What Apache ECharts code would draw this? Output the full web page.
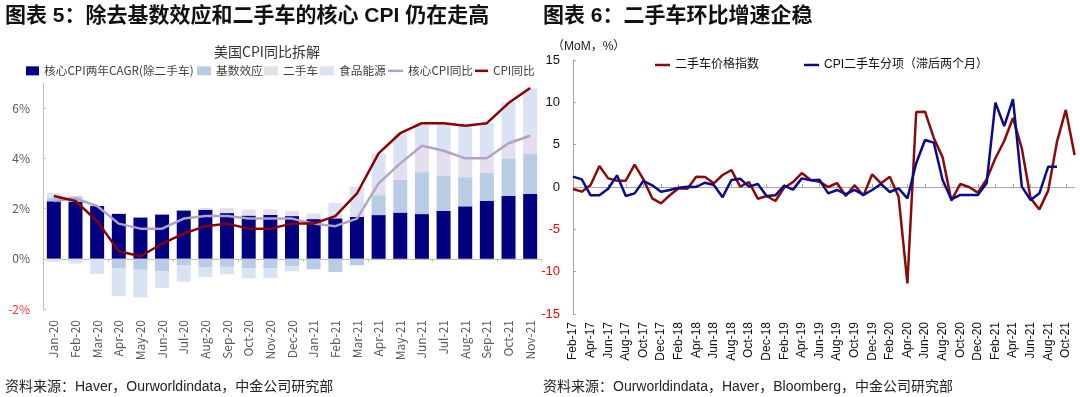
<!DOCTYPE html>
<html>
<head>
<meta charset="utf-8">
<script src="https://cdn.jsdelivr.net/npm/echarts@6/dist/echarts.min.js"></script>
<style>
html,body{margin:0;padding:0;background:#fff;}
#main{width:1080px;height:397px;}
</style>
</head>
<body>
<div id="main"></div>
<script>
// ---------- Left chart data (美国CPI同比拆解, %) ----------
var monthsL = ['Jan-20','Feb-20','Mar-20','Apr-20','May-20','Jun-20','Jul-20','Aug-20','Sep-20','Oct-20','Nov-20','Dec-20',
               'Jan-21','Feb-21','Mar-21','Apr-21','May-21','Jun-21','Jul-21','Aug-21','Sep-21','Oct-21','Nov-21'];
var coreCagr   = [2.29,2.26,2.10,1.79,1.64,1.76,1.92,1.95,1.82,1.72,1.75,1.70,1.58,1.61,1.67,1.74,1.84,1.78,1.91,2.09,2.30,2.50,2.58];
var baseEffect = [0.13,0.23,0.00,-0.39,-0.44,-0.50,-0.27,-0.33,-0.32,-0.38,-0.37,-0.30,-0.42,-0.53,-0.26,0.79,1.30,1.67,1.41,1.16,1.13,1.50,1.59];
var usedCar    = [-0.12,-0.09,0.00,0.00,0.00,-0.06,-0.05,0.08,0.20,0.24,0.22,0.20,0.22,0.22,0.19,0.46,0.66,1.05,1.01,0.75,0.57,0.63,0.72];
var foodEnergy = [0.20,-0.10,-0.60,-1.10,-1.10,-0.60,-0.60,-0.40,-0.30,-0.40,-0.40,-0.20,0.00,0.40,1.00,1.20,1.20,0.90,1.10,1.30,1.40,1.60,1.90];
var coreCpi    = [2.3,2.4,2.1,1.4,1.2,1.2,1.6,1.7,1.7,1.6,1.6,1.6,1.4,1.3,1.6,3.0,3.8,4.5,4.3,4.0,4.0,4.6,4.9];
var cpi        = [2.5,2.3,1.5,0.3,0.1,0.6,1.0,1.3,1.4,1.2,1.2,1.4,1.4,1.7,2.6,4.2,5.0,5.4,5.4,5.3,5.4,6.2,6.8];
var yTicksL    = [-2,0,2,4,6];

// ---------- Right chart data (MoM, %) ----------
var monthsR = ['Feb-17','Mar-17','Apr-17','May-17','Jun-17','Jul-17','Aug-17','Sep-17','Oct-17','Nov-17','Dec-17',
  'Jan-18','Feb-18','Mar-18','Apr-18','May-18','Jun-18','Jul-18','Aug-18','Sep-18','Oct-18','Nov-18','Dec-18',
  'Jan-19','Feb-19','Mar-19','Apr-19','May-19','Jun-19','Jul-19','Aug-19','Sep-19','Oct-19','Nov-19','Dec-19',
  'Jan-20','Feb-20','Mar-20','Apr-20','May-20','Jun-20','Jul-20','Aug-20','Sep-20','Oct-20','Nov-20','Dec-20',
  'Jan-21','Feb-21','Mar-21','Apr-21','May-21','Jun-21','Jul-21','Aug-21','Sep-21','Oct-21','Nov-21'];
var usedCarIndex = [-0.24,-0.55,0.24,2.48,1.02,0.75,0.75,2.64,0.90,-1.34,-1.93,-0.98,-0.16,-0.20,1.22,1.18,0.43,1.42,2.00,0.04,
  0.59,-1.38,-1.06,-1.65,-0.08,0.59,1.65,0.83,0.63,0.00,0.47,-1.06,0.20,-1.02,1.50,0.43,1.22,-1.14,-11.38,8.86,
  8.90,5.80,3.50,-1.61,0.35,0.00,-0.67,0.90,3.39,5.43,8.15,4.57,-1.34,-2.64,-0.43,5.35,9.10,3.78];
var cpiUsedCar = [1.22,0.90,-0.98,-0.98,-0.20,1.38,-1.06,-0.75,0.71,0.20,-0.55,-0.35,-0.08,0.04,0.00,0.51,0.24,-1.20,0.83,0.98,
  0.04,0.35,-1.06,-0.98,0.16,-0.31,1.02,0.79,0.85,-0.75,-0.35,-0.83,-0.35,-0.94,-0.35,0.35,-0.59,-0.16,-1.34,2.80,
  5.55,5.24,0.83,-1.46,-0.94,-0.94,-0.94,0.43,9.96,7.20,10.39,0.04,-1.54,-0.75,2.40,2.40];

var CJK = '"Noto Sans CJK SC", sans-serif';
var LAT = '"Liberation Sans", Arial, "Noto Sans CJK SC", sans-serif';
var axisGray = '#BFBFBF';

// one legend per item so each sits where it does in the reference
function legendItem(name, left, top, w, h, font, size, color) {
  return {
    left: left, top: top, padding: 0, itemWidth: w, itemHeight: h, icon: 'rect',
    textStyle: {fontFamily: font, fontSize: size, color: color},
    data: [name]
  };
}
var legends = [
  legendItem('核心CPI两年CAGR(除二手车)', 26, 65, 13, 9, CJK, 11.7, '#404040'),
  legendItem('基数效应', 197, 65, 14, 9, CJK, 11.7, '#404040'),
  legendItem('二手车', 264, 65, 14, 9, CJK, 11.7, '#404040'),
  legendItem('食品能源', 320, 65, 14, 9, CJK, 11.7, '#404040'),
  legendItem('核心CPI同比', 388, 65, 15, 2.5, CJK, 11.7, '#404040'),
  legendItem('CPI同比', 475, 65, 13, 2.5, CJK, 11.7, '#404040'),
  legendItem('二手车价格指数', 655, 59, 15, 2.5, LAT, 12, '#111'),
  legendItem('CPI二手车分项（滞后两个月）', 804, 59, 15, 2.5, LAT, 12, '#111')
];

var chart = echarts.init(document.getElementById('main'), null, {renderer:'canvas'});
var option = {
  animation: false,
  backgroundColor: '#fff',
  graphic: [
    {type:'text', left:5, top:6, style:{text:'图表 5：除去基数效应和二手车的核心 CPI 仍在走高', font:'bold 21px ' + LAT, fill:'#111'}},
    {type:'text', left:543, top:6, style:{text:'图表 6：二手车环比增速企稳', font:'bold 21px ' + LAT, fill:'#111'}},
    {type:'text', left:214, top:45, style:{text:'美国CPI同比拆解', font:'14px ' + CJK, fill:'#333'}},
    {type:'text', left:552, top:41, style:{text:'（MoM，%）', font:'12px ' + LAT, fill:'#222'}},
    {type:'text', left:5, top:380, style:{text:'资料来源：Haver，Ourworldindata，中金公司研究部', font:'14px ' + LAT, fill:'#222'}},
    {type:'text', left:543, top:380, style:{text:'资料来源：Ourworldindata，Haver，Bloomberg，中金公司研究部', font:'14px ' + LAT, fill:'#222'}}
  ],
  legend: legends,
  grid: [
    {left: 43, top: 83, width: 498, height: 226},
    {left: 573, top: 60, width: 501.6, height: 254}
  ],
  xAxis: [
    {gridIndex:0, type:'category', data: monthsL, position:'bottom',
     axisLine:{show:false, onZero:false}, axisTick:{show:false},
     axisLabel:{rotate:90, interval:0, margin:11, fontFamily:CJK, fontSize:12, color:'#595959'}},
    {gridIndex:0, type:'category', data: monthsL, position:'bottom',
     axisLine:{show:true, onZero:true, lineStyle:{color:axisGray, width:1}},
     axisTick:{show:true, length:3, lineStyle:{color:axisGray}}, axisLabel:{show:false}},
    {gridIndex:1, type:'category', data: monthsR, boundaryGap:false, position:'bottom',
     axisLine:{show:false, onZero:false}, axisTick:{show:false},
     axisLabel:{rotate:90, interval:1, margin:8, fontFamily:LAT, fontSize:12, color:'#111'}},
    {gridIndex:1, type:'category', data: monthsR, boundaryGap:false, position:'bottom',
     axisLine:{show:true, onZero:true, lineStyle:{color:'#A6A6A6', width:1}},
     axisTick:{show:true, inside:true, interval:1, length:3, lineStyle:{color:'#A6A6A6'}}, axisLabel:{show:false}}
  ],
  yAxis: [
    {gridIndex:0, type:'value', min:-2, max:7, interval:2,
     splitLine:{show:false},
     axisLine:{show:true, lineStyle:{color:axisGray}},
     axisTick:{show:true, inside:true, length:3, lineStyle:{color:axisGray}, customValues: yTicksL},
     axisLabel:{margin:13, fontFamily:CJK, fontSize:12, customValues: yTicksL,
       formatter: function(v){ return v === 7 ? '' : v + '%'; },
       color: function(v){ return Number(v) < 0 ? '#FF3030' : '#595959'; }}},
    {gridIndex:1, type:'value', min:-15, max:15, interval:5,
     splitLine:{show:false},
     axisLine:{show:true, lineStyle:{color:'#A6A6A6'}},
     axisTick:{show:true, inside:true, length:3, lineStyle:{color:'#A6A6A6'}},
     axisLabel:{margin:13, fontFamily:LAT, fontSize:13,
       color: function(v){ return Number(v) < 0 ? '#FF0000' : '#111'; }}}
  ],
  series: [
    {name:'核心CPI两年CAGR(除二手车)', type:'bar', stack:'L', xAxisIndex:0, yAxisIndex:0, barWidth:14, data: coreCagr, itemStyle:{color:'#000080'}},
    {name:'基数效应', type:'bar', stack:'L', xAxisIndex:0, yAxisIndex:0, barWidth:14, data: baseEffect, itemStyle:{color:'#B8CCE4'}},
    {name:'二手车', type:'bar', stack:'L', xAxisIndex:0, yAxisIndex:0, barWidth:14, data: usedCar, itemStyle:{color:'#E4DFEC'}},
    {name:'食品能源', type:'bar', stack:'L', xAxisIndex:0, yAxisIndex:0, barWidth:14, data: foodEnergy, itemStyle:{color:'#DAE3F3'}},
    {name:'核心CPI同比', type:'line', xAxisIndex:0, yAxisIndex:0, data: coreCpi, symbol:'none',
     lineStyle:{color:'#B3A2C7', width:2.5}, itemStyle:{color:'#B3A2C7'}, z:5},
    {name:'CPI同比', type:'line', xAxisIndex:0, yAxisIndex:0, data: cpi, symbol:'none',
     lineStyle:{color:'#8B0000', width:2.5}, itemStyle:{color:'#8B0000'}, z:6},
    {name:'二手车价格指数', type:'line', xAxisIndex:2, yAxisIndex:1, data: usedCarIndex, symbol:'none',
     lineStyle:{color:'#8B0A0A', width:2.5}, itemStyle:{color:'#8B0A0A'}, z:5},
    {name:'CPI二手车分项（滞后两个月）', type:'line', xAxisIndex:2, yAxisIndex:1, data: cpiUsedCar, symbol:'none',
     lineStyle:{color:'#0A0A8C', width:2.5}, itemStyle:{color:'#0A0A8C'}, z:6}
  ]
};
chart.setOption(option);
</script>
</body>
</html>
